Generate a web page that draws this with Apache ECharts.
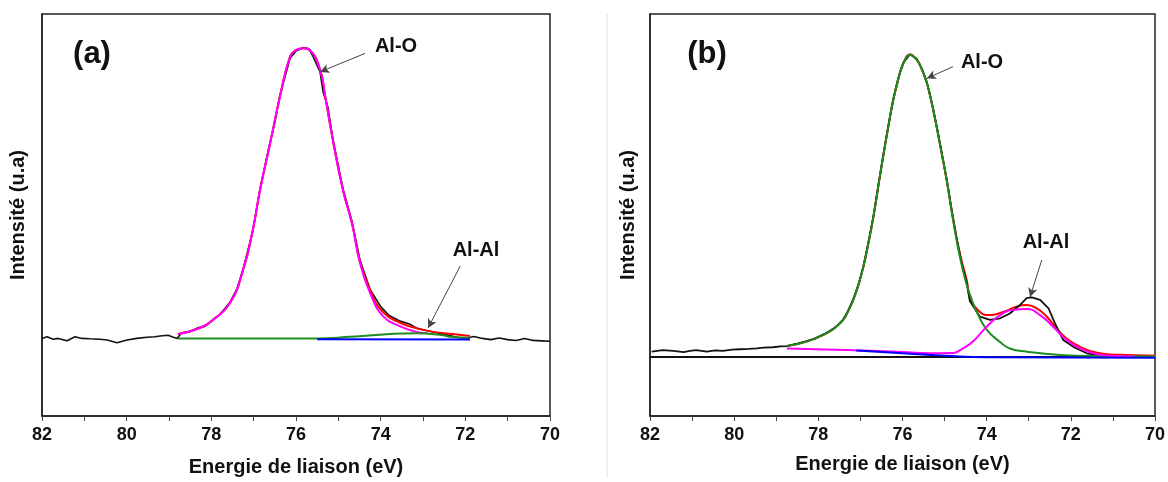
<!DOCTYPE html>
<html>
<head>
<meta charset="utf-8">
<script src="https://cdn.jsdelivr.net/npm/echarts@6/dist/echarts.min.js"></script>
<style>
    html, body { margin: 0; padding: 0; background: #fff; }
    #chart { width: 1168px; height: 482px; }
</style>
</head>
<body>
<div id="chart"></div>
<script>
// x ticks (binding energy, eV)
const xTicks = [82, 80, 78, 76, 74, 72, 70];

// ---- panel (a) ----
const rawA = [[82.0,19.3],[81.88,19.7],[81.74,19.1],[81.62,19.3],[81.41,18.7],[81.22,19.7],[81.06,19.3],[80.87,19.2],[80.63,19.1],[80.46,18.9],[80.23,18.2],[79.99,18.9],[79.76,19.3],[79.52,19.6],[79.33,19.7],[79.21,19.9],[79.02,20.1],[78.93,19.7],[78.81,19.3],[78.7,20.7],[78.5,21.0],[78.3,22.0],[78.15,22.3],[77.96,24.0],[77.8,25.2],[77.56,28.3],[77.4,31.5],[77.25,36.5],[77.02,46.0],[76.85,56.5],[76.61,68.2],[76.5,73.0],[76.38,79.8],[76.14,89.0],[76.0,90.8],[75.83,91.6],[75.7,91.4],[75.6,89.5],[75.43,85.5],[75.36,80.6],[75.25,77.0],[75.13,69.0],[74.89,56.5],[74.68,48.5],[74.49,38.8],[74.25,31.5],[74.0,27.2],[73.8,25.0],[73.54,23.6],[73.3,22.8],[73.14,21.8],[72.9,21.2],[72.67,20.7],[72.4,20.1],[72.2,19.6],[72.0,19.3],[71.8,19.8],[71.6,19.3],[71.4,19.0],[71.2,19.4],[71.0,19.0],[70.8,18.8],[70.6,19.3],[70.4,18.8],[70.2,18.7],[70.0,18.6]];
const envA = [[78.79,20.4],[78.27,21.9],[77.96,23.9],[77.56,28.1],[77.25,36.3],[77.02,46.3],[76.85,56.2],[76.61,67.9],[76.38,79.4],[76.14,89.4],[76.0,91.0],[75.83,91.5],[75.67,91.0],[75.43,86.1],[75.31,79.5],[75.13,68.7],[74.89,56.2],[74.68,48.0],[74.49,38.6],[74.25,31.3],[73.94,25.8],[73.54,23.2],[73.14,21.8],[72.67,20.8],[72.3,20.4],[71.89,19.9]];
const aloA = [[78.79,20.4],[78.27,21.9],[77.96,23.9],[77.56,28.1],[77.25,36.3],[77.02,46.3],[76.85,56.2],[76.61,67.9],[76.38,79.4],[76.14,89.4],[76.0,91.0],[75.83,91.5],[75.67,91.0],[75.43,86.1],[75.31,79.5],[75.13,68.7],[74.89,56.2],[74.68,48.0],[74.49,38.1],[74.25,30.6],[73.94,24.8],[73.54,22.3],[73.14,20.9],[72.9,20.6]];
const alalA = [[78.79,19.3],[77.0,19.3],[75.5,19.3],[74.72,19.7],[73.78,20.4],[73.14,20.6],[72.53,20.1],[72.36,19.7],[71.89,19.4]];
const bgA = [[75.5,19.1],[71.89,19.0]];

// ---- panel (b) ----
const rawB = [[81.96,16.0],[81.7,16.4],[81.45,16.2],[81.2,15.9],[81.05,16.2],[80.9,16.4],[80.65,16.0],[80.45,16.3],[80.27,16.2],[80.05,16.5],[79.86,16.6],[79.65,16.7],[79.46,16.8],[79.3,17.0],[79.08,17.1],[78.9,17.3],[78.75,17.4],[78.5,18.0],[78.28,18.6],[78.1,19.2],[77.8,20.7],[77.6,22.0],[77.41,24.0],[77.3,26.0],[77.17,29.0],[77.05,32.6],[76.93,37.2],[76.81,43.2],[76.69,49.8],[76.58,57.0],[76.46,64.7],[76.34,72.0],[76.22,78.8],[76.1,84.0],[75.98,87.9],[75.82,90.0],[75.66,88.8],[75.54,86.4],[75.42,83.0],[75.3,77.8],[75.19,72.2],[75.07,65.6],[74.95,58.9],[74.83,51.2],[74.71,44.0],[74.59,37.8],[74.47,33.0],[74.40,28.6],[74.16,24.7],[73.92,23.9],[73.68,24.3],[73.45,25.5],[73.21,27.6],[73.05,29.3],[72.93,29.5],[72.73,28.9],[72.53,26.8],[72.38,23.1],[72.18,18.9],[71.94,17.2],[71.62,15.6],[71.31,15.0],[71.2,15.1]];
const envB = [[78.75,17.4],[78.28,18.5],[77.8,20.6],[77.6,22.0],[77.41,23.9],[77.3,25.9],[77.17,28.9],[77.05,32.5],[76.93,37.1],[76.81,43.0],[76.69,49.6],[76.58,56.8],[76.46,64.5],[76.34,71.8],[76.22,78.6],[76.1,83.8],[75.98,87.7],[75.82,89.9],[75.66,88.6],[75.54,86.2],[75.42,82.8],[75.3,77.6],[75.19,72.0],[75.07,65.4],[74.95,58.7],[74.83,51.0],[74.71,44.0],[74.59,38.4],[74.47,33.6],[74.40,29.7],[74.16,25.9],[73.92,25.1],[73.61,25.9],[73.29,27.2],[73.05,27.6],[72.81,26.8],[72.57,24.7],[72.34,21.8],[72.10,19.3],[71.78,17.2],[71.47,16.0],[71.07,15.3],[70.67,15.2],[70.0,15.0]];
const aloB = [[78.75,17.4],[78.28,18.5],[77.8,20.6],[77.6,22.0],[77.41,23.9],[77.3,25.9],[77.17,28.9],[77.05,32.5],[76.93,37.1],[76.81,43.0],[76.69,49.6],[76.58,56.8],[76.46,64.5],[76.34,71.8],[76.22,78.6],[76.1,83.8],[75.98,87.7],[75.82,89.8],[75.66,88.6],[75.54,86.2],[75.42,82.8],[75.3,77.6],[75.19,72.0],[75.07,65.4],[74.95,58.7],[74.83,50.8],[74.71,43.5],[74.59,37.4],[74.47,32.5],[74.35,28.8],[74.24,26.0],[74.0,21.5],[73.68,18.4],[73.45,16.8],[73.04,16.0],[72.26,15.2],[71.31,14.9],[70.0,14.8]];
const alalB = [[78.75,16.8],[77.33,16.4],[76.14,16.0],[75.35,15.6],[74.79,15.7],[74.63,16.4],[74.32,18.6],[74.0,22.2],[73.68,25.1],[73.37,26.4],[73.05,26.6],[72.73,25.1],[72.42,22.2],[72.10,18.9],[71.78,16.8],[71.47,15.6],[71.07,15.0],[70.5,14.8]];
const bgB = [[77.1,16.3],[76.0,15.6],[75.0,15.0],[74.0,14.6],[70.0,14.5]];
const zeroB = [[82,14.7],[70,14.7]];

const FONT = 'Liberation Sans, Arial, sans-serif';

function xAxisCfg(grid, gap) {
    return {
        type: 'value', gridIndex: grid, min: 70, max: 82, interval: 1, inverse: true,
        name: 'Energie de liaison (eV)', nameLocation: 'middle', nameGap: gap,
        nameTextStyle: { fontFamily: FONT, fontWeight: 'bold', fontSize: 20, color: '#111' },
        axisLine: { onZero: false, lineStyle: { color: '#222', width: 1.5 } },
        axisTick: { length: 5, lineStyle: { color: '#444', width: 1 } },
        axisLabel: {
            margin: 10, fontFamily: FONT, fontWeight: 'bold', fontSize: 18, color: '#111',
            formatter: v => xTicks.indexOf(v) >= 0 ? String(v) : ''
        },
        splitLine: { show: false }
    };
}
function yAxisCfg(grid, gap) {
    return {
        type: 'value', gridIndex: grid, min: 0, max: 100,
        name: 'Intensité (u.a)', nameLocation: 'middle', nameGap: gap, nameRotate: 90,
        nameTextStyle: { fontFamily: FONT, fontWeight: 'bold', fontSize: 20, color: '#111' },
        axisLine: { show: true, lineStyle: { color: '#222', width: 1.5 } },
        axisTick: { show: false }, axisLabel: { show: false }, splitLine: { show: false }
    };
}
function line(data, color, xi, w, smooth, z) {
    return {
        type: 'line', xAxisIndex: xi, yAxisIndex: xi, data: data, showSymbol: false,
        smooth: smooth, z: z, silent: true,
        lineStyle: { color: color, width: w }
    };
}
function arrow(xi, from, to) {
    return {
        type: 'line', xAxisIndex: xi, yAxisIndex: xi, data: [], silent: true, z: 10,
        markLine: {
            silent: true, symbol: ['none', 'arrow'], symbolSize: [7, 9],
            label: { show: false },
            lineStyle: { color: '#444', width: 1, type: 'solid' },
            data: [[{ coord: from }, { coord: to }]]
        }
    };
}
function txt(x, y, s, size) {
    return {
        type: 'text', x: x, y: y,
        style: { text: s, fontFamily: FONT, fontWeight: 'bold', fontSize: size, fill: '#111',
                 align: 'center', verticalAlign: 'middle' }
    };
}

const chart = echarts.init(document.getElementById('chart'));
chart.setOption({
    backgroundColor: '#fff',
    animation: false,
    grid: [
        { left: 42, right: 618, top: 14, bottom: 66, show: true, borderColor: '#222', borderWidth: 1.5 },
        { left: 650, right: 13, top: 14, bottom: 66, show: true, borderColor: '#222', borderWidth: 1.5 }
    ],
    xAxis: [xAxisCfg(0, 41), xAxisCfg(1, 38)],
    yAxis: [yAxisCfg(0, 14), yAxisCfg(1, 12)],
    series: [
        line(rawA, '#111', 0, 1.6, false, 2),
        line(envA, '#ff0000', 0, 2, true, 3),
        line(aloA, '#ff00ff', 0, 2, true, 4),
        line(alalA, '#1e8c1e', 0, 2, true, 5),
        line(bgA, '#0000ff', 0, 2, false, 6),
        arrow(0, [74.37, 90.2], [75.43, 85.6]),
        arrow(0, [72.12, 37.3], [72.88, 21.9]),

        line(zeroB, '#111', 1, 2, false, 1),
        line(envB, '#ff0000', 1, 2, true, 2),
        line(rawB, '#111', 1, 1.8, false, 3),
        line(aloB, '#1e8c1e', 1, 2, true, 4),
        line(alalB, '#ff00ff', 1, 2, true, 5),
        line(bgB, '#0000ff', 1, 2, true, 6),
        arrow(1, [74.80, 86.9], [75.42, 84.0]),
        arrow(1, [72.69, 38.8], [72.97, 29.6])
    ],
    graphic: [
        { type: 'line', shape: { x1: 607, y1: 14, x2: 607, y2: 478 }, style: { stroke: '#e4e4e4', lineWidth: 1 } },
        txt(92, 54, '(a)', 31),
        txt(707, 54, '(b)', 31),
        txt(396, 46, 'Al-O', 20),
        txt(476, 250, 'Al-Al', 20),
        txt(982, 62, 'Al-O', 20),
        txt(1046, 242, 'Al-Al', 20)
    ]
});
</script>
</body>
</html>
